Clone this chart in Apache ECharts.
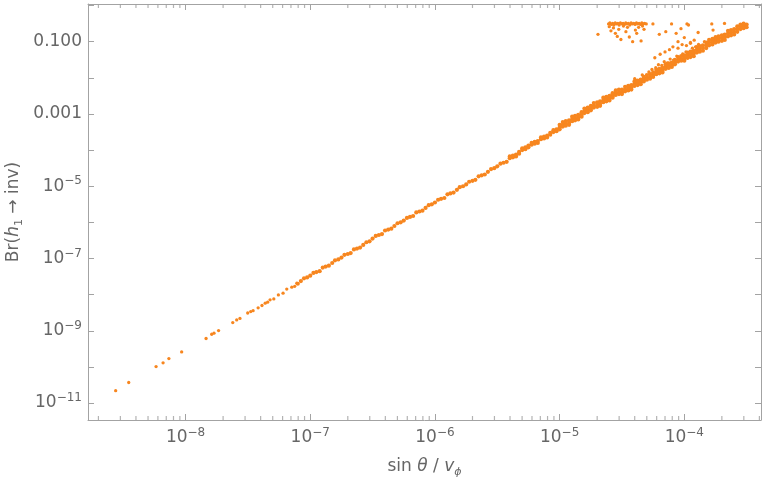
<!DOCTYPE html>
<html>
<head>
<meta charset='utf-8'>
<script src='https://cdn.jsdelivr.net/npm/echarts@6.0.0/dist/echarts.min.js'></script>
<style>
  html, body { margin: 0; padding: 0; background: #fff; }
  #brInv { width: 764px; height: 483px; }
</style>
</head>
<body>
<div id='brInv'></div>
<script>
// plot range (raw values, log-log frame)
const xMin = 1.65e-9
const xMax = 4.12e-4
const yMin = 3.39e-12
const yMax = 1.105

// y labels that Mathematica writes as decimals
const yDecimalLabels = { '-1': '0.100', '-3': '0.001' }
// minor ticks on the x frame
const minorMultipliers = [2, 3, 4, 5, 6, 7, 8, 9]
const minorDecades = [-9, -8, -7, -6, -5, -4]

// isolated points at the low end
const sparsePts = [
  [2.75e-9, 2.2e-11], [3.5e-9, 3.7e-11], [5.8e-9, 1.02e-10], [6.6e-9, 1.3e-10], [7.35e-9, 1.7e-10],
  [9.3e-9, 2.6e-10], [1.46e-8, 6.1e-10], [1.62e-8, 8.0e-10], [1.69e-8, 8.6e-10], [1.84e-8, 1.01e-9],
  [2.39e-8, 1.69e-9], [2.57e-8, 2.0e-9], [2.73e-8, 2.19e-9], [3.15e-8, 3.1e-9], [3.33e-8, 3.4e-9],
  [3.48e-8, 3.6e-9], [3.82e-8, 4.3e-9], [4.1e-8, 5.0e-9], [4.35e-8, 5.8e-9], [4.55e-8, 6.2e-9],
  [4.76e-8, 7.2e-9], [5.1e-8, 7.6e-9], [5.55e-8, 9.8e-9], [6.05e-8, 1.1e-8], [6.48e-8, 1.42e-8],
  [7.11e-8, 1.61e-8], [7.5e-8, 1.7e-8], [7.8e-8, 2.07e-8]
]

// centre of the dense band
const bandPts = [
  [7.94e-8, 2.00e-8], [8.41e-8, 2.37e-8], [8.91e-8, 2.82e-8], [9.44e-8, 3.0e-8],
  [1.00e-7, 3.35e-8], [1.06e-7, 3.98e-8], [1.12e-7, 4.22e-8], [1.19e-7, 4.47e-8], [1.26e-7, 5.62e-8],
  [1.33e-7, 5.96e-8], [1.41e-7, 6.31e-8], [1.50e-7, 7.50e-8], [1.58e-7, 8.91e-8], [1.68e-7, 9.44e-8],
  [1.78e-7, 1.06e-7], [1.88e-7, 1.26e-7], [2.00e-7, 1.33e-7], [2.11e-7, 1.41e-7], [2.24e-7, 1.78e-7],
  [2.37e-7, 1.88e-7], [2.51e-7, 2.00e-7], [2.66e-7, 2.37e-7], [2.82e-7, 2.82e-7], [2.99e-7, 2.99e-7],
  [3.16e-7, 3.55e-7], [3.35e-7, 4.22e-7], [3.55e-7, 4.47e-7], [3.76e-7, 4.73e-7], [3.98e-7, 5.96e-7],
  [4.22e-7, 6.31e-7], [4.47e-7, 6.68e-7], [4.73e-7, 7.94e-7], [5.01e-7, 9.44e-7], [5.31e-7, 1.00e-6],
  [5.62e-7, 1.12e-6], [5.96e-7, 1.33e-6], [6.31e-7, 1.41e-6], [6.68e-7, 1.50e-6], [7.08e-7, 1.88e-6],
  [7.50e-7, 2.00e-6], [7.94e-7, 2.11e-6], [8.41e-7, 2.51e-6], [8.91e-7, 2.99e-6], [9.44e-7, 3.16e-6],
  [1.00e-6, 3.55e-6], [1.06e-6, 4.22e-6], [1.12e-6, 4.47e-6], [1.19e-6, 4.73e-6], [1.26e-6, 5.96e-6],
  [1.33e-6, 6.31e-6], [1.41e-6, 6.68e-6], [1.50e-6, 7.94e-6], [1.58e-6, 9.44e-6], [1.68e-6, 1.00e-5],
  [1.78e-6, 1.12e-5], [1.88e-6, 1.33e-5], [2.00e-6, 1.41e-5], [2.11e-6, 1.50e-5], [2.24e-6, 1.88e-5],
  [2.37e-6, 2.00e-5], [2.51e-6, 2.11e-5], [2.66e-6, 2.51e-5], [2.82e-6, 2.99e-5], [2.99e-6, 3.16e-5],
  [3.16e-6, 3.55e-5], [3.35e-6, 4.22e-5], [3.55e-6, 4.47e-5], [3.76e-6, 4.73e-5], [3.98e-6, 5.96e-5],
  [4.22e-6, 6.31e-5], [4.47e-6, 6.68e-5], [4.73e-6, 7.94e-5], [5.01e-6, 1.00e-4], [5.31e-6, 1.06e-4],
  [5.62e-6, 1.19e-4], [5.96e-6, 1.41e-4], [6.31e-6, 1.50e-4], [6.68e-6, 1.58e-4], [7.08e-6, 2.00e-4],
  [7.50e-6, 2.11e-4], [7.94e-6, 2.24e-4], [8.41e-6, 2.66e-4], [8.91e-6, 3.16e-4], [9.44e-6, 3.35e-4],
  [1.00e-5, 4.22e-4], [1.06e-5, 5.01e-4], [1.12e-5, 5.31e-4], [1.19e-5, 5.62e-4], [1.26e-5, 7.08e-4],
  [1.33e-5, 7.50e-4], [1.41e-5, 7.94e-4], [1.50e-5, 9.44e-4], [1.58e-5, 1.19e-3], [1.68e-5, 1.26e-3],
  [1.78e-5, 1.41e-3], [1.88e-5, 1.68e-3], [2.00e-5, 1.78e-3], [2.11e-5, 1.88e-3], [2.24e-5, 2.37e-3],
  [2.37e-5, 2.51e-3], [2.51e-5, 2.66e-3], [2.66e-5, 3.16e-3], [2.82e-5, 3.76e-3], [2.99e-5, 3.98e-3],
  [3.16e-5, 3.98e-3], [3.35e-5, 4.73e-3], [3.55e-5, 5.01e-3], [3.76e-5, 5.31e-3], [3.98e-5, 6.68e-3],
  [4.22e-5, 7.08e-3], [4.47e-5, 7.50e-3], [4.73e-5, 8.91e-3], [5.01e-5, 1.00e-2], [5.31e-5, 1.06e-2],
  [5.62e-5, 1.19e-2], [5.96e-5, 1.41e-2], [6.31e-5, 1.50e-2], [6.68e-5, 1.58e-2], [7.08e-5, 2.00e-2],
  [7.50e-5, 2.11e-2], [7.94e-5, 2.24e-2], [8.41e-5, 2.66e-2], [8.91e-5, 3.16e-2], [9.44e-5, 3.35e-2],
  [1.00e-4, 3.55e-2], [1.06e-4, 4.22e-2], [1.12e-4, 4.47e-2], [1.19e-4, 4.73e-2], [1.26e-4, 5.96e-2],
  [1.33e-4, 6.31e-2], [1.41e-4, 6.68e-2], [1.50e-4, 7.94e-2], [1.58e-4, 9.44e-2], [1.68e-4, 0.100],
  [1.78e-4, 0.112], [1.88e-4, 0.119], [2.00e-4, 0.126], [2.11e-4, 0.133], [2.24e-4, 0.168],
  [2.37e-4, 0.178], [2.51e-4, 0.188], [2.66e-4, 0.224], [2.82e-4, 0.266], [2.99e-4, 0.282], [3.16e-4, 0.299]
]

// upper edge of the band where it gets wider
const bandUpperPts = [
  [3.98e-6, 6.68e-5], [4.22e-6, 7.08e-5], [4.47e-6, 7.50e-5], [4.73e-6, 8.91e-5], [5.01e-6, 1.12e-4],
  [5.31e-6, 1.19e-4], [5.62e-6, 1.33e-4], [5.96e-6, 1.58e-4], [6.31e-6, 1.68e-4], [6.68e-6, 1.78e-4],
  [7.08e-6, 2.24e-4], [7.50e-6, 2.37e-4], [7.94e-6, 2.51e-4], [8.41e-6, 2.99e-4], [8.91e-6, 3.55e-4],
  [9.44e-6, 3.76e-4],
  [1.00e-5, 5.01e-4], [1.06e-5, 5.96e-4], [1.12e-5, 6.31e-4], [1.19e-5, 6.68e-4], [1.26e-5, 8.41e-4],
  [1.33e-5, 8.91e-4], [1.41e-5, 9.44e-4], [1.50e-5, 1.12e-3], [1.58e-5, 1.41e-3], [1.68e-5, 1.50e-3],
  [1.78e-5, 1.68e-3], [1.88e-5, 2.00e-3], [2.00e-5, 2.11e-3], [2.11e-5, 2.24e-3], [2.24e-5, 2.82e-3],
  [2.37e-5, 2.99e-3], [2.51e-5, 3.16e-3], [2.66e-5, 3.76e-3], [2.82e-5, 4.47e-3], [2.99e-5, 4.73e-3],
  [3.16e-5, 4.73e-3], [3.35e-5, 5.62e-3], [3.55e-5, 5.96e-3], [3.76e-5, 6.31e-3], [3.98e-5, 7.94e-3],
  [4.22e-5, 8.41e-3], [4.47e-5, 8.91e-3], [4.73e-5, 1.06e-2], [5.01e-5, 1.19e-2], [5.31e-5, 1.26e-2],
  [5.62e-5, 1.41e-2], [5.96e-5, 1.68e-2], [6.31e-5, 1.78e-2], [6.68e-5, 1.88e-2], [7.08e-5, 2.37e-2],
  [7.50e-5, 2.51e-2], [7.94e-5, 2.66e-2], [8.41e-5, 3.16e-2], [8.91e-5, 3.76e-2], [9.44e-5, 3.98e-2],
  [1.00e-4, 4.22e-2], [1.06e-4, 5.01e-2], [1.12e-4, 5.31e-2], [1.19e-4, 5.62e-2], [1.26e-4, 7.08e-2],
  [1.33e-4, 7.50e-2], [1.41e-4, 7.94e-2], [1.50e-4, 9.44e-2], [1.58e-4, 0.112], [1.68e-4, 0.119],
  [1.78e-4, 0.133], [1.88e-4, 0.141], [2.00e-4, 0.150], [2.11e-4, 0.158], [2.24e-4, 0.200],
  [2.37e-4, 0.211], [2.51e-4, 0.224], [2.66e-4, 0.266], [2.82e-4, 0.299], [2.99e-4, 0.316]
]

// lower edge of the band
const bandLowerPts = [
  [1.00e-5, 3.76e-4], [1.06e-5, 4.47e-4], [1.12e-5, 4.73e-4], [1.19e-5, 5.01e-4], [1.26e-5, 6.31e-4],
  [1.33e-5, 6.68e-4], [1.41e-5, 7.08e-4], [1.50e-5, 8.41e-4], [1.58e-5, 1.06e-3], [1.68e-5, 1.12e-3],
  [1.78e-5, 1.26e-3], [1.88e-5, 1.50e-3], [2.00e-5, 1.58e-3], [2.11e-5, 1.68e-3], [2.24e-5, 2.11e-3],
  [2.37e-5, 2.24e-3], [2.51e-5, 2.37e-3], [2.66e-5, 2.82e-3], [2.82e-5, 3.35e-3], [2.99e-5, 3.55e-3],
  [3.16e-5, 3.55e-3], [3.35e-5, 4.22e-3], [3.55e-5, 4.47e-3], [3.76e-5, 4.73e-3], [3.98e-5, 5.96e-3],
  [4.22e-5, 6.31e-3], [4.47e-5, 6.68e-3], [4.73e-5, 7.94e-3], [5.01e-5, 8.91e-3], [5.31e-5, 9.44e-3],
  [5.62e-5, 1.06e-2], [5.96e-5, 1.26e-2], [6.31e-5, 1.33e-2], [6.68e-5, 1.41e-2], [7.08e-5, 1.78e-2],
  [7.50e-5, 1.88e-2], [7.94e-5, 2.00e-2], [8.41e-5, 2.37e-2], [8.91e-5, 2.82e-2], [9.44e-5, 2.99e-2],
  [1.00e-4, 2.99e-2], [1.06e-4, 3.55e-2], [1.12e-4, 3.76e-2], [1.19e-4, 3.98e-2], [1.26e-4, 5.01e-2],
  [1.33e-4, 5.31e-2], [1.41e-4, 5.62e-2], [1.50e-4, 6.68e-2], [1.58e-4, 7.94e-2], [1.68e-4, 8.41e-2],
  [1.78e-4, 9.44e-2], [1.88e-4, 0.100], [2.00e-4, 0.106], [2.11e-4, 0.112], [2.24e-4, 0.141],
  [2.37e-4, 0.150], [2.51e-4, 0.158], [2.66e-4, 0.188], [2.82e-4, 0.224], [2.99e-4, 0.237], [3.16e-4, 0.251]
]

// loose points just above the band
const fringePts = [
  [4.0e-5, 9.5e-3], [4.6e-5, 1.2e-2], [5.2e-5, 1.45e-2], [5.5e-5, 1.7e-2], [5.9e-5, 1.9e-2],
  [6.2e-5, 2.3e-2], [6.6e-5, 2.2e-2], [6.9e-5, 2.8e-2], [7.3e-5, 2.6e-2], [7.7e-5, 3.3e-2],
  [8.2e-5, 3.1e-2], [8.7e-5, 4.0e-2], [9.1e-5, 3.7e-2], [9.7e-5, 4.6e-2], [1.03e-4, 5.2e-2],
  [1.09e-4, 5.0e-2], [1.16e-4, 6.6e-2], [1.23e-4, 7.2e-2], [1.3e-4, 8.4e-2], [1.45e-4, 0.10],
  [5.8e-5, 0.036], [6.4e-5, 0.045], [7.0e-5, 0.052], [7.6e-5, 0.06], [8.1e-5, 0.072],
  [8.9e-5, 0.066], [9.6e-5, 0.083], [1.04e-4, 0.078], [1.12e-4, 0.09]
]

// cluster near Br = 0.3
const clusterPts = [
  [2.47e-5, 0.31], [2.53e-5, 0.33], [2.6e-5, 0.30], [2.66e-5, 0.32], [2.72e-5, 0.29], [2.79e-5, 0.33],
  [2.86e-5, 0.31], [2.93e-5, 0.32], [3.0e-5, 0.29], [3.07e-5, 0.33], [3.15e-5, 0.31], [3.23e-5, 0.32],
  [3.31e-5, 0.30], [3.39e-5, 0.33], [3.47e-5, 0.31], [3.56e-5, 0.32], [3.65e-5, 0.29], [3.74e-5, 0.33],
  [3.83e-5, 0.31], [3.93e-5, 0.32], [4.03e-5, 0.30], [4.13e-5, 0.33], [4.23e-5, 0.31], [4.34e-5, 0.32],
  [4.45e-5, 0.30], [4.56e-5, 0.33], [4.67e-5, 0.31], [4.8e-5, 0.32], [4.95e-5, 0.31],
  [2.03e-5, 0.16], [2.5e-5, 0.26], [2.58e-5, 0.2], [2.7e-5, 0.24], [2.8e-5, 0.17], [2.9e-5, 0.14],
  [2.98e-5, 0.22], [3.1e-5, 0.115], [3.25e-5, 0.27], [3.4e-5, 0.19], [3.5e-5, 0.25], [3.62e-5, 0.135],
  [3.85e-5, 0.1], [4.05e-5, 0.21], [4.15e-5, 0.17], [4.3e-5, 0.25], [4.5e-5, 0.105], [4.62e-5, 0.27],
  [4.75e-5, 0.22],
  [5.6e-5, 0.31], [6.3e-5, 0.16], [7.1e-5, 0.19], [7.9e-5, 0.31], [8.6e-5, 0.17], [8.9e-5, 0.1],
  [9.4e-5, 0.23], [1.0e-4, 0.13], [1.05e-4, 0.31], [1.08e-4, 0.29], [1.12e-4, 0.095], [1.2e-4, 0.11],
  [1.29e-4, 0.18], [1.66e-4, 0.31], [1.7e-4, 0.21], [2.1e-4, 0.32]
]

const axisColor = '#a3a3a3'
const textColor = '#666666'
const fontFamily = 'DejaVu Sans'
const pointColor = '#f7861f'

const lg = v => Math.log10(v)
const toLog = pts => pts.map(p => [lg(p[0]), lg(p[1])])
const bandAll = [].concat(bandPts, bandUpperPts, bandLowerPts)
const loosePts = [].concat(sparsePts, fringePts, clusterPts)

let minorX = []
minorDecades.forEach(d => {
  minorMultipliers.forEach(m => {
    let v = d + lg(m)
    if (v > lg(xMin) && v < lg(xMax)) minorX.push(v)
  })
})

const tickRich = {
  b: { fontSize: 17, fontFamily: fontFamily, color: textColor, lineHeight: 22 },
  sup: { fontSize: 12, fontFamily: fontFamily, color: textColor, lineHeight: 10, verticalAlign: 'top' }
}

function powerLabel(e) {
  return '{b|10}{sup|\u2212' + (-e) + '}'
}

function xLabel(v) {
  let e = Math.round(v)
  if (Math.abs(v - e) > 1e-6) return ''
  return powerLabel(e)
}

function yLabel(v) {
  let e = Math.round(v)
  if (Math.abs(v - e) > 1e-6 || e % 2 === 0) return ''
  if (yDecimalLabels[e]) return '{b|' + yDecimalLabels[e] + '}'
  return powerLabel(e)
}

const frameAxis = {
  axisLine: { show: true, onZero: false, lineStyle: { color: axisColor, width: 1 } },
  axisTick: { show: true, inside: true, length: 6, lineStyle: { color: axisColor } },
  splitLine: { show: false }
}

const nameStyle = {
  fontSize: 17,
  fontFamily: fontFamily,
  color: textColor,
  lineHeight: 22,
  rich: {
    i: { fontSize: 17, fontFamily: fontFamily, color: textColor, fontStyle: 'italic', lineHeight: 22 },
    s: { fontSize: 11, fontFamily: fontFamily, color: textColor, lineHeight: 11, verticalAlign: 'bottom' },
    si: { fontSize: 11, fontFamily: fontFamily, color: textColor, fontStyle: 'italic', lineHeight: 11, verticalAlign: 'bottom' }
  }
}

// small vertical marks for the log minor ticks, placed through the axes
function minorTickSeries(yValue, offset) {
  return {
    type: 'scatter',
    silent: true,
    clip: false,
    xAxisIndex: 0,
    yAxisIndex: 0,
    data: minorX.map(v => [v, lg(yValue)]),
    symbol: 'rect',
    symbolSize: [1.2, 4],
    symbolOffset: [0, offset],
    itemStyle: { color: '#a0a0a0' },
    z: 1
  }
}

let option = {
  animation: false,
  backgroundColor: '#ffffff',
  grid: { left: 88, right: 3, top: 4, bottom: 63, containLabel: false, outerBoundsMode: 'none' },
  xAxis: [
    Object.assign({
      type: 'value',
      position: 'bottom',
      min: lg(xMin),
      max: lg(xMax),
      splitNumber: 5,
      axisLabel: { formatter: xLabel, margin: 7, rich: tickRich, showMinLabel: false, showMaxLabel: false },
      name: 'sin {i|θ} / {i|v}{si|ϕ}',
      nameLocation: 'middle',
      nameGap: 36,
      nameMoveOverlap: false,
      nameTextStyle: nameStyle
    }, frameAxis),
    Object.assign({
      type: 'value',
      position: 'top',
      min: lg(xMin),
      max: lg(xMax),
      splitNumber: 5,
      axisLabel: { show: false }
    }, frameAxis)
  ],
  yAxis: [
    Object.assign({
      type: 'value',
      position: 'left',
      min: lg(yMin),
      max: lg(yMax),
      splitNumber: 11,
      axisLabel: { formatter: yLabel, margin: 6, rich: tickRich, showMinLabel: false, showMaxLabel: false },
      name: 'Br({i|h}{s|1} → inv)',
      nameLocation: 'middle',
      nameGap: 63,
      nameMoveOverlap: false,
      nameTextStyle: nameStyle
    }, frameAxis),
    Object.assign({
      type: 'value',
      position: 'right',
      min: lg(yMin),
      max: lg(yMax),
      splitNumber: 11,
      axisLabel: { show: false }
    }, frameAxis)
  ],
  series: [
    minorTickSeries(yMin, -2),
    minorTickSeries(yMax, 2),
    {
      type: 'scatter',
      name: 'band',
      xAxisIndex: 0,
      yAxisIndex: 0,
      data: toLog(bandAll),
      symbol: 'circle',
      symbolSize: 4.2,
      silent: true,
      z: 3,
      itemStyle: { color: pointColor, opacity: 1 }
    },
    {
      type: 'scatter',
      name: 'loose',
      xAxisIndex: 0,
      yAxisIndex: 0,
      data: toLog(loosePts),
      symbol: 'circle',
      symbolSize: 3.3,
      silent: true,
      z: 3,
      itemStyle: { color: pointColor, opacity: 1 }
    }
  ]
}

let myEchart = echarts.init(document.querySelector('#brInv'), null, { renderer: 'canvas' })
myEchart.setOption(option)
</script>
</body>
</html>
